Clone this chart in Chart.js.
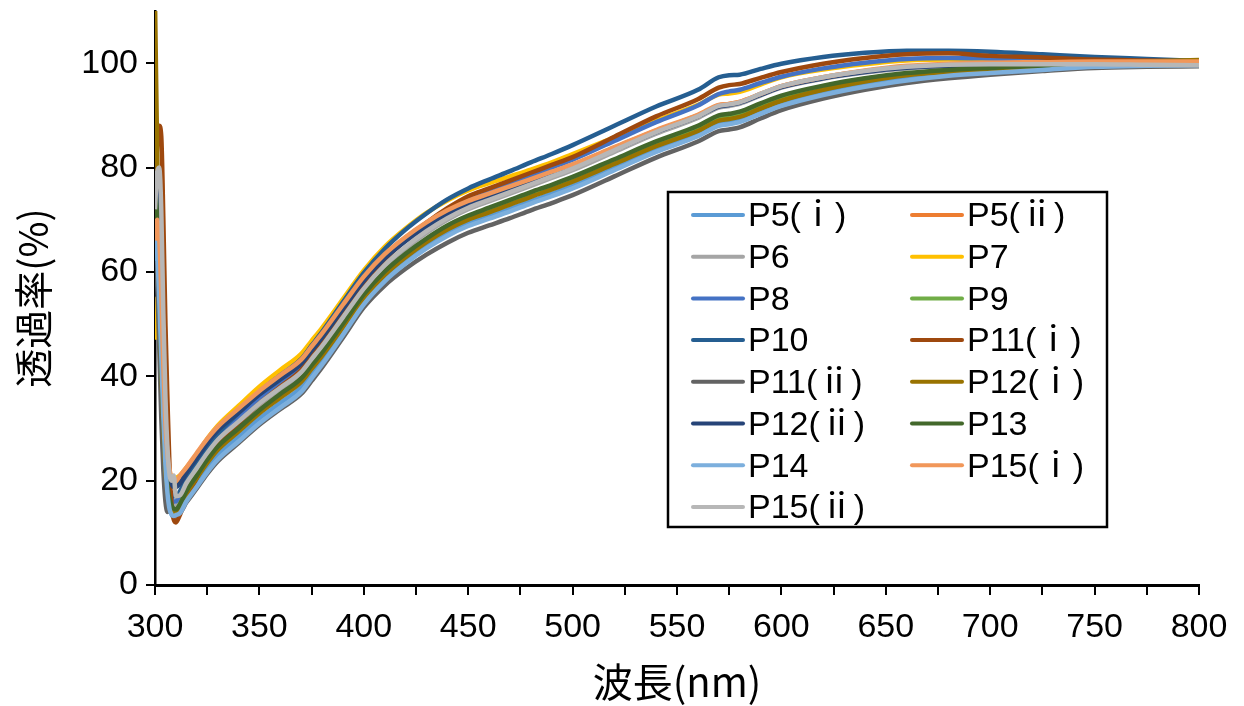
<!DOCTYPE html>
<html><head><meta charset="utf-8">
<script src="https://cdn.jsdelivr.net/npm/chart.js@4/dist/chart.umd.min.js"></script>
<style>html,body{margin:0;padding:0;background:#fff}#wrap{width:1244px;height:706px;position:relative}</style>
</head><body><div id="wrap"><canvas id="c" width="1244" height="706"></canvas></div>
<script>
const wavelengths = [300,301,302,303,304,305,306,307,308,309,310,312,315,320,325,330,340,350,360,370,375,380,390,400,410,420,430,440,450,460,470,480,490,500,520,540,560,570,575,580,590,600,620,640,660,680,700,725,750,775,800];

const seriesNames = ['P5(ⅰ)','P5(ⅱ)','P6','P7','P8','P9','P10','P11(ⅰ)','P11(ⅱ)','P12(ⅰ)','P12(ⅱ)','P13','P14','P15(ⅰ)','P15(ⅱ)'];

const p5i = [62,66,58,44,32,24,18,15,13.5,13,13, 14.2,16.5,19.5,22.4,24.9, 28.4,31.9,34.9,37.9,40.4,43,48.6,54.3, 58.7,62.1,65,67.4,69.3,70.7,72.1,73.6,75,76.5, 80,83.5,86.5,88.5,88.8,89.2,90.8,92.3, 94.4,96,97.2,98,98.6,99,99.4,99.6,99.7];
const p5ii = [68,72,66,52,38,29,24,21,20,19.5,19.5, 20.5,22,24.8,27.7,30.1, 33.6,37.1,40.1,43.1,45.6,48.1,53.6,59, 63.3,66.6,69.4,71.7,73.5,74.9,76.3,77.7,79.1,80.5, 83.8,87.1,90,91.9,92.2,92.6,94.1,95.6, 97.3,98.5,99.3,99.7,99.9,100.1,100.2,100.3,100.4];
const p6 = [74,76,68,52,38,28,22,18,16,15.2,15, 16.5,19,22,25,27.5, 31,34.5,37.5,40.5,43,45.5,51,56.5, 61,64.5,67.5,70,72,73.5,75,76.5,78,79.5, 83,86.5,89.5,91.5,91.8,92.2,93.8,95.3, 97,98.2,99,99.4,99.6,99.8,99.9,100,100];
const p7 = [47,55,50,40,31,26,23,21.5,20.8,20.3,20.5, 21,22.5,25,28,30.5, 34.3,38,41.2,44.3,46.8,49.3,54.8,60.3, 64.8,68.3,71.3,73.7,75.6,77,78.3,79.6,81,82.6, 85.8,89,92,94,94.2,94.5,95.9,97.3, 98.8,99.8,100.5,100.7,100.6,100.6,100.4,100.4,100.3];
const p8 = [72,68,58,45,34,26,21,18,16.5,16,16, 17.5,20,23,26,28.5, 32.1,35.7,38.8,41.9,44.4,46.9,52.5,58, 62.6,66.2,69.3,71.9,74,75.5,77,78.5,80,81.5, 85.1,88.7,91.9,94.1,94.6,94.9,96.2,97.4, 99,100.1,100.8,101,100.9,100.7,100.4,100.3,100.2];
const p9 = [76,68,56,42,31,23.5,19,16.5,15,14.4,14.3, 15.5,18,21,24,26.5, 30,33.4,36.4,39.4,41.9,44.4,49.9,55.4, 59.8,63.2,66.1,68.5,70.5,71.9,73.4,74.9,76.3,77.8, 81.2,84.7,87.7,89.7,90,90.4,92,93.5, 95.5,97,98,98.6,99,99.4,99.6,99.8,100];
const p10 = [75,70,58,44,33,26,21,18.5,17.5,17,17, 18,20.5,23.5,26.5,29, 33,37,40.2,43.3,45.9,48.5,54.2,59.8, 64.4,68.1,71.2,73.9,76,77.7,79.3,81,82.6,84.3, 88,91.7,94.9,97.3,97.7,97.8,98.9,99.9, 101.2,102,102.4,102.4,102.2,101.7,101.2,100.8,100.4];
const p11i = [75,84,88,86,70,50,35,22,15,12.5,12, 13.5,16.5,20.5,24,27, 31,34.8,38,41.2,43.8,46.3,51.9,57.5, 62.3,66.1,69.4,72.2,74.5,76,77.5,79,80.5,82, 85.9,89.8,93.1,95.3,95.8,96,97.2,98.3, 99.9,101,101.7,101.9,101.4,101.1,100.7,100.5,100.3];
const p11ii = [62,58,46,32,22,16,14,14.2,14.5,14.5,14.5, 14,15.8,18.5,21.3,23.7, 27.2,30.7,33.7,36.6,39.1,41.7,47.4,53.2, 57.4,60.6,63.3,65.6,67.5,68.9,70.3,71.8,73.2,74.7, 78.3,81.9,85,87,87.3,87.7,89.4,91, 93.2,94.9,96.2,97.1,97.8,98.5,99.1,99.3,99.4];
const p12i = [112,84,60,42,30,22,18,15.5,14.5,13.8,13.5, 15,17.5,20.5,23.4,25.9, 29.4,32.9,35.9,38.9,41.4,43.9,49.4,55, 59.4,62.8,65.7,68.1,70,71.4,72.9,74.4,75.8,77.3, 80.7,84.1,87,89,89.3,89.7,91.3,92.8, 94.9,96.5,97.7,98.3,98.6,99.3,99.9,100.3,100.6];
const p12ii = [78,74,62,47,35,27,22.5,20.5,19.3,18.8,18.8, 19.5,21.5,24.3,27.2,29.6, 33,36.5,39.4,42.4,44.9,47.4,52.9,58.3, 62.6,65.9,68.7,71.1,73,74.4,75.8,77.2,78.6,80, 83.4,86.8,89.8,91.7,92,92.4,93.9,95.4, 97.1,98.3,99.1,99.5,99.7,99.9,100,100,100];
const p13 = [77,70,57,43,32,24,19,16.5,15.2,14.6,14.5, 15.5,18,21,24,26.5, 30,33.5,36.6,39.6,42.1,44.6,50.1,55.7, 60.1,63.5,66.4,68.9,70.8,72.3,73.8,75.3,76.7,78.2, 81.6,85,88,90,90.3,90.7,92.3,93.8, 95.7,97.1,98.1,98.7,99.1,99.5,99.7,99.9,100];
const p14 = [68,64,55,44,32,23,17.5,14.5,13.5,13.2,13.4, 13.8,16,18.8,21.6,24, 27.5,31,34,37,39.6,42.2,47.9,53.8, 58.2,61.6,64.5,66.9,68.8,70.2,71.6,73.1,74.5,76, 79.5,83,86,88,88.3,88.7,90.3,91.8, 93.9,95.5,96.7,97.6,98.1,98.7,99.3,99.5,99.6];
const p15i = [66,70,67,56,42,31,25,22,20.5,20,20, 21,22.5,25.3,28,30.3, 33.8,37.2,40.2,43.2,45.7,48.2,53.7,59.1, 63.4,66.7,69.5,71.8,73.6,75,76.4,77.8,79.2,80.6, 83.9,87.2,90.1,92,92.2,92.6,94.1,95.6, 97.3,98.6,99.5,99.9,100.1,100.2,100.3,100.3,100.3];
const p15ii = [72,79,80,72,52,36,26,21,20,21,17, 17.2,19.5,22.4,25.3,27.8, 31.3,34.8,37.8,40.8,43.3,45.8,51.3,56.8, 61.3,64.8,67.8,70.3,72.3,73.8,75.3,76.8,78.3,79.8, 83.3,86.8,89.8,91.8,92.1,92.5,94.1,95.6, 97.3,98.5,99.3,99.7,99.8,99.8,99.8,99.7,99.6];

const yTickValues = [0,20,40,60,80,100];
const xLabelStep = 50;

const seriesValues = [p5i,p5ii,p6,p7,p8,p9,p10,p11i,p11ii,p12i,p12ii,p13,p14,p15i,p15ii];
const seriesColors = ['#5B9BD5','#ED7D31','#A5A5A5','#FFC000','#4472C4','#70AD47','#255E91','#9E480E','#636363','#997300','#264478','#43682B','#7CAFDD','#F1975A','#B7B7B7'];

const LATIN = '"Liberation Sans", Arial, "Noto Sans CJK JP", sans-serif';
const CJK = '"Noto Sans CJK JP", "Liberation Sans", sans-serif';

const datasets = seriesNames.map((name, i) => ({
  label: name,
  data: wavelengths.map((w, j) => ({x: w, y: seriesValues[i][j]})),
  borderColor: seriesColors[i],
  backgroundColor: seriesColors[i],
  borderWidth: 4.5,
  pointRadius: 0,
  cubicInterpolationMode: 'monotone',
  fill: false,
  order: -i
}));

const legendPlugin = {
  id: 'boxLegend',
  afterDraw(chart) {
    const ctx = chart.ctx;
    const box = {x: 668, y: 192, w: 439, h: 335};
    ctx.save();
    ctx.fillStyle = '#fff';
    ctx.fillRect(box.x, box.y, box.w, box.h);
    ctx.lineWidth = 2.5;
    ctx.strokeStyle = '#000';
    ctx.strokeRect(box.x, box.y, box.w, box.h);
    ctx.font = '34px ' + LATIN;
    ctx.textBaseline = 'middle';
    ctx.textAlign = 'left';
    const rowH = 41.7;
    chart.data.datasets.forEach((ds, i) => {
      const col = i % 2, row = Math.floor(i / 2);
      const lx = col === 0 ? 693 : 912;
      const cy = 215 + row * rowH;
      ctx.strokeStyle = ds.borderColor;
      ctx.lineWidth = 4;
      ctx.lineCap = 'round';
      ctx.beginPath(); ctx.moveTo(lx, cy); ctx.lineTo(lx + 50, cy); ctx.stroke();
      ctx.fillStyle = '#000';
      ctx.fillText(ds.label, lx + 55, cy + 2);
    });
    ctx.restore();
  }
};

new Chart(document.getElementById('c'), {
  type: 'line',
  data: {datasets},
  plugins: [legendPlugin],
  options: {
    responsive: false,
    animation: false,
    events: [],
    layout: {padding: {left: 0, top: 11, right: 45, bottom: 0}},
    plugins: {legend: {display: false}, tooltip: {enabled: false}},
    scales: {
      x: {
        type: 'linear', min: 300, max: 800,
        border: {display: true, color: '#000', width: 3},
        grid: {drawOnChartArea: false, drawTicks: true, tickLength: 10, color: '#000', lineWidth: 2},
        ticks: {stepSize: 25, autoSkip: false, maxRotation: 0, padding: 12, color: '#000',
          font: {family: LATIN, size: 34},
          callback: v => (v % xLabelStep === 0 ? String(v) : '')},
        title: {display: true, text: '波長(nm)', color: '#000', font: {family: CJK, size: 40}, padding: {top: 0, bottom: 0}},
        afterFit: s => { s.height = 121; s.paddingLeft = 0; s.paddingRight = 0; }
      },
      y: {
        type: 'linear', min: 0, max: 110,
        border: {display: true, color: '#000', width: 2.5},
        grid: {drawOnChartArea: false, drawTicks: true, tickLength: 9, color: '#000', lineWidth: 2},
        ticks: {stepSize: 20, padding: 8, color: '#000', font: {family: LATIN, size: 34}},
        afterBuildTicks: s => { s.ticks = yTickValues.map(v => ({value: v})); },
        title: {display: true, text: '透過率(%)', color: '#000', font: {family: CJK, size: 39}, padding: {top: 10, bottom: 0}},
        afterFit: s => { s.width = 155; s.paddingTop = 0; s.paddingBottom = 0; }
      }
    }
  }
});
</script></body></html>
